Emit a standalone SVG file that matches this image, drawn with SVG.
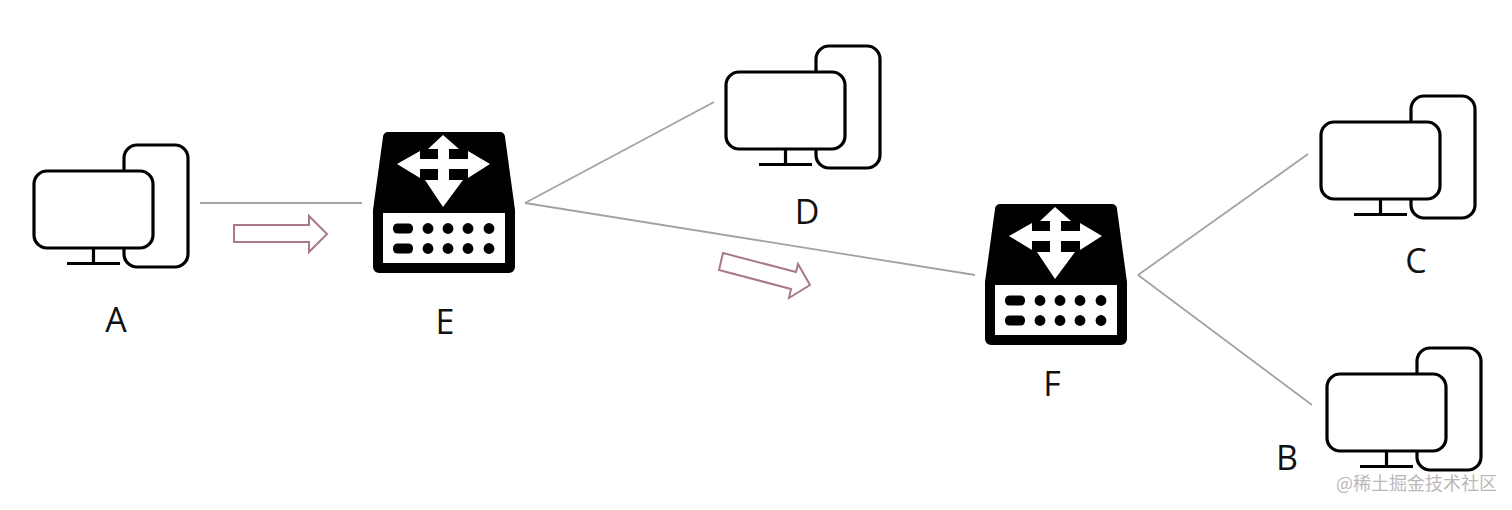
<svg xmlns="http://www.w3.org/2000/svg" width="1512" height="510" viewBox="0 0 1512 510">
<style>
.pc{fill:none;stroke:#000;stroke-width:3.200;stroke-linejoin:round}
.link{stroke:#a3a3a3;stroke-width:1.800;fill:none}
.flow{fill:#fff;stroke:#a9798a;stroke-width:2;stroke-linejoin:miter}
.lbl{font-family:"Open Sans","Noto Sans",sans-serif;font-size:34px;fill:#111;text-anchor:middle}
.wm{font-family:"Noto Sans CJK SC","Noto Sans",sans-serif;font-size:18px;fill:#b9b9b9}
</style>
<defs>
<g id="computer">
<path class="pc" d="M124 171V158a13 13 0 0 1 13-13H175a13 13 0 0 1 13 13V254a13 13 0 0 1-13 13H137a13 13 0 0 1-13-13V248"/>
<rect class="pc" x="34" y="171" width="119" height="77" rx="13"/>
<path class="pc" d="M93.500 248V264M67 263.500H120"/>
</g>
<g id="router">
<path fill="#000" d="M388 132H500a5 5 0 0 1 5 5L515 210V267a6 6 0 0 1-6 6H379a6 6 0 0 1-6-6V210L383 137a5 5 0 0 1 5-5Z"/>
<rect fill="#fff" x="383" y="213" width="122" height="50"/>
<path fill="#fff" d="M443 135L459 149H449V159H468V151L490 164L468 178V169H449V180H463L443 207L425 180H438V169H420V178L397 164L420 151V159H438V149H428Z"/>
<rect x="393" y="223.500" width="20" height="10" rx="4.500"/>
<rect x="393" y="243.500" width="20" height="10" rx="4.500"/>
<g fill="#000">
<circle cx="428" cy="228.500" r="5.400"/><circle cx="448" cy="228.500" r="5.400"/><circle cx="468" cy="228.500" r="5.400"/><circle cx="489" cy="228.500" r="5.400"/>
<circle cx="428" cy="248.500" r="5.400"/><circle cx="448" cy="248.500" r="5.400"/><circle cx="468" cy="248.500" r="5.400"/><circle cx="489" cy="248.500" r="5.400"/>
</g>
</g>
</defs>
<rect width="1512" height="510" fill="#fff"/>
<g id="connectors">
<path class="link" d="M200 203H362"/>
<path class="link" d="M525 203L714 102"/>
<path class="link" d="M525 203L975 275"/>
<path class="link" d="M1138 275L1308 154"/>
<path class="link" d="M1138 275L1312 405"/>
<polygon class="flow" points="234,225 309,225 309,216 327,234 309,252 309,242 234,242"/>
<polygon class="flow" points="723,253 796,272 798,264 810,285 789,298 791,289 719,270"/>
</g>
<g id="node-a"><use href="#computer"/><text class="lbl" x="116" y="332">A</text></g>
<g id="node-e"><use href="#router"/><text class="lbl" x="445" y="334">E</text></g>
<g id="node-d"><use href="#computer" transform="translate(692 -99)"/><text class="lbl" x="807" y="224">D</text></g>
<g id="node-f"><use href="#router" transform="translate(612 72)"/><text class="lbl" x="1052" y="396">F</text></g>
<g id="node-c"><use href="#computer" transform="translate(1287 -49)"/><text class="lbl" x="1416" y="273">C</text></g>
<g id="node-b"><use href="#computer" transform="translate(1293 203)"/><text class="lbl" x="1287" y="470">B</text></g>
<text class="wm" x="1336" y="490">@稀土掘金技术社区</text>
</svg>
